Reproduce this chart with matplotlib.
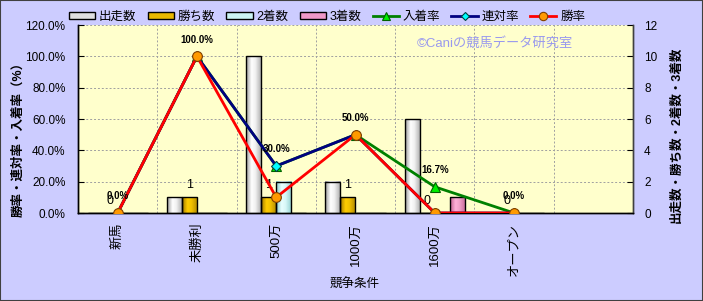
import numpy as np
import matplotlib
matplotlib.use("Agg")
import matplotlib.pyplot as plt
from matplotlib.colors import LinearSegmentedColormap
from matplotlib.patches import Patch, Rectangle
from matplotlib.lines import Line2D

plt.rcParams['font.family'] = ['Liberation Sans', 'Noto Sans CJK JP', 'DejaVu Sans']

categories = ["新馬", "未勝利", "500万", "1000万", "1600万", "オープン"]
starts = [0, 1, 10, 2, 6, 0]        # 出走数
wins = [0, 1, 1, 1, 0, 0]           # 勝ち数
seconds = [0, 0, 2, 0, 0, 0]        # 2着数
thirds = [0, 0, 0, 0, 1, 0]         # 3着数
win_rate = [0.0, 100.0, 10.0, 50.0, 0.0, 0.0]      # 勝率
quinella_rate = [0.0, 100.0, 30.0, 50.0, 0.0, 0.0]  # 連対率
place_rate = [0.0, 100.0, 30.0, 50.0, 16.7, 0.0]    # 入着率
n_slots = 7

W, H = 703, 301
fig = plt.figure(figsize=(W / 100, H / 100), dpi=100)
fig.patch.set_facecolor('#ccccff')

l, r, b, t = 78, 633, 213, 25
axL = fig.add_axes([l / W, 1 - b / H, (r - l) / W, (b - t) / H])
axR = axL.twinx()
axL.set_zorder(2)
axR.set_zorder(1)
axL.patch.set_visible(False)
axR.patch.set_visible(True)
axR.patch.set_facecolor('#ffffcc')

x = np.arange(len(categories))
bw = 0.19

bar_specs = [
    (starts, -1.5, ['#9a9a9a', '#ffffff', '#f0f0f0', '#a8a8a8'], '#e0e0e0', '出走数'),
    (wins, -0.5, ['#a07800', '#ffcc00', '#f0c000', '#b08800'], '#e8b800', '勝ち数'),
    (seconds, 0.5, ['#88c8c8', '#e8ffff', '#d8f8f8', '#90d0d0'], '#ccf4f4', '2着数'),
    (thirds, 1.5, ['#c06090', '#ffb0d8', '#f0a0c8', '#c86898'], '#f098c8', '3着数'),
]

legend_handles = []
for vals, off, cols, flat, name in bar_specs:
    cmap = LinearSegmentedColormap.from_list('g' + name, list(zip([0, 0.35, 0.6, 1], cols)))
    bars = axR.bar(x + off * bw, vals, width=bw, facecolor='none', edgecolor='black',
                   linewidth=1.0, zorder=3)
    for p in bars:
        h = p.get_height()
        if h <= 0:
            continue
        grad = np.linspace(0, 1, 64).reshape(1, -1)
        axR.imshow(grad, extent=[p.get_x(), p.get_x() + p.get_width(), 0, h],
                   aspect='auto', cmap=cmap, zorder=2.9, interpolation='bilinear')
    legend_handles.append(Patch(facecolor=flat, edgecolor='black', linewidth=1.0, label=name))

axR.set_xlim(-0.5, n_slots - 0.5)
axR.set_ylim(0, 12)
axR.set_yticks(range(0, 13, 2))
axR.yaxis.grid(True, linestyle=(0, (2, 2)), color='#a0a0a0', linewidth=0.7, zorder=0)
axR.set_axisbelow(True)
for k in range(n_slots - 1):
    axR.axvline(k + 0.5, color='#a0a0a0', linestyle=(0, (2, 2)), linewidth=0.7, zorder=0.5)

# count labels (勝ち数)
for xi, v in zip(x, wins):
    axR.annotate(str(v), (xi - 0.5 * bw, v), xytext=(0, 9), textcoords='offset points',
                 ha='center', va='center', fontsize=9, zorder=6)

# rate lines
line_specs = [
    (place_rate, '#008000', '^', '#00ee00', '#006000', 7, '入着率'),
    (quinella_rate, '#000080', 'D', '#00ffff', '#004040', 5, '連対率'),
    (win_rate, '#ff0000', 'o', '#ff9900', '#804000', 7, '勝率'),
]
for vals, c, m, mfc, mec, ms, name in line_specs:
    axL.plot(x, vals, color=c, linewidth=2.0, marker=m, markerfacecolor=mfc,
             markeredgecolor=mec, markersize=ms, markeredgewidth=0.8, zorder=4)
    legend_handles.append(Line2D([], [], color=c, linewidth=2.0, marker=m, markerfacecolor=mfc,
                                 markeredgecolor=mec, markersize=ms - 1, markeredgewidth=0.8,
                                 label=name))

for xi, v in zip(x, place_rate):
    axL.annotate(f"{v:.1f}%", (xi, v), xytext=(0, 12), textcoords='offset points',
                 ha='center', va='center', fontsize=7, fontweight='bold', zorder=6)

axL.set_xlim(-0.5, n_slots - 0.5)
axL.set_ylim(0, 120)
axL.set_yticks(range(0, 121, 20))
axL.set_yticklabels([f"{v:.1f}%" for v in range(0, 121, 20)])
axL.set_xticks(x)
axL.set_xticklabels(categories, rotation=90, fontsize=9.5)
axL.tick_params(axis='x', length=0, pad=7)
axL.tick_params(axis='y', direction='in', length=4, pad=9, labelsize=8.5, colors='black')
axR.tick_params(axis='y', direction='in', length=4, pad=8, labelsize=8.5)
axR.tick_params(axis='x', length=0)

for ax in (axL, axR):
    ax.spines['top'].set_visible(False)
    ax.spines['left'].set_color('black')
    ax.spines['bottom'].set_color('black')
    ax.spines['right'].set_color('#404040')
    for s in ax.spines.values():
        s.set_linewidth(1.0)

fig.legend(handles=legend_handles, loc='center', bbox_to_anchor=(327 / W, 1 - 17 / H),
           ncol=7, frameon=False, fontsize=9, handlelength=2.1, handleheight=0.55,
           handletextpad=0.3, columnspacing=0.9, borderaxespad=0)

fig.text(18 / W, 1 - 136 / H, "勝率・連対率・入着率（%）", rotation=90, ha='center', va='center',
         fontsize=9, fontweight='bold')
fig.text(677 / W, 1 - 135 / H, "出走数・勝ち数・2着数・3着数", rotation=90, ha='center', va='center',
         fontsize=9, fontweight='bold')
fig.text(355 / W, 1 - 285 / H, "競争条件", ha='center', va='center', fontsize=9)
fig.text(495 / W, 1 - 43 / H, "©Caniの競馬データ研究室", ha='center', va='center',
         fontsize=9.5, color='#9999ee')

fig.add_artist(Rectangle((0, 0), 1, 1, transform=fig.transFigure, fill=False,
                         edgecolor='#404040', linewidth=1.5))

fig.savefig("out.png", dpi=100, facecolor=fig.get_facecolor())
